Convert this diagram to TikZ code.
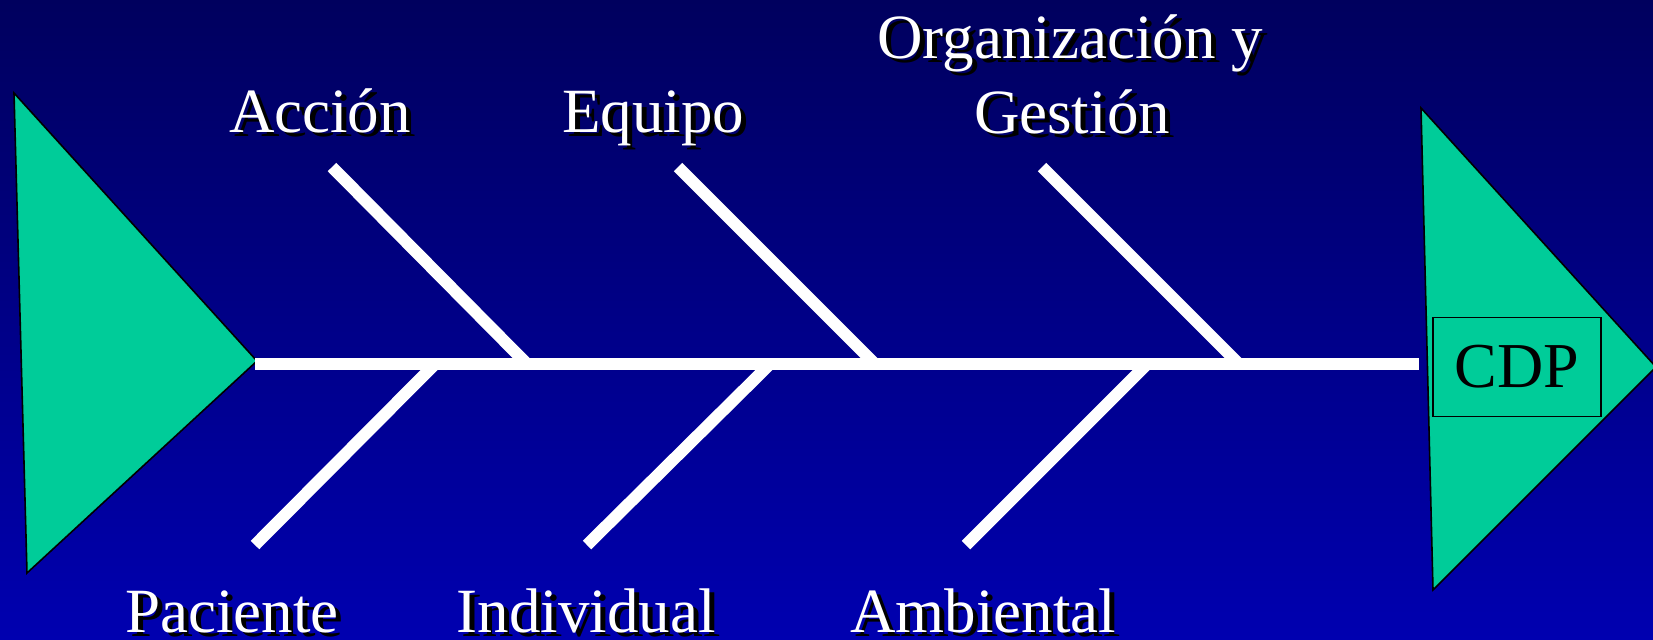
\documentclass[tikz,border=0pt]{standalone}
\usepackage{fontspec}
\setmainfont{Liberation Serif}
\definecolor{bgtop}{RGB}{0,0,94}
\definecolor{bgbot}{RGB}{0,0,176}
\definecolor{fishgreen}{RGB}{0,204,153}
\begin{document}
\begin{tikzpicture}[x=0.5pt,y=-0.5pt,
  fin/.style={fill=fishgreen,draw=black,line width=0.8pt,line join=miter},
  bone/.style={draw=white,line width=6pt},
  lbl/.style={text=white,font=\fontsize{31.5}{36}\selectfont,anchor=base,inner sep=0pt},
  lblsh/.style={text=black,font=\fontsize{31.5}{36}\selectfont,anchor=base,inner sep=0pt},
  cdpbox/.style={draw=black,line width=0.8pt,minimum width=84pt,minimum height=49.5pt,font=\fontsize{32}{38}\selectfont,text=black,inner sep=0pt}]
\useasboundingbox (0,0) rectangle (1653,639);
\shade[top color=bgtop,bottom color=bgbot] (0pt,0pt) rectangle (826.5pt,-319.5pt);
% fins
\coordinate (lt) at (14,93);
\coordinate (la) at (257,361);
\coordinate (lb) at (27,573);
\coordinate (rt) at (1421,108);
\coordinate (ra) at (1656,367);
\coordinate (rb) at (1433,590);
\draw[fin] (lt) -- (la) -- (lb) -- cycle;
\draw[fin] (rt) -- (ra) -- (rb) -- cycle;
% spine
\coordinate (s0) at (255,364);
\coordinate (s1) at (1419,364);
\draw[bone] (s0) -- (s1);
% upper bones
\coordinate (u1a) at (332,167); \coordinate (u1b) at (527,364);
\coordinate (u2a) at (678,167); \coordinate (u2b) at (875,364);
\coordinate (u3a) at (1042,167); \coordinate (u3b) at (1239,364);
\draw[bone] (u1a) -- (u1b);
\draw[bone] (u2a) -- (u2b);
\draw[bone] (u3a) -- (u3b);
% lower bones
\coordinate (d1a) at (435,364); \coordinate (d1b) at (255,545);
\coordinate (d2a) at (770,364); \coordinate (d2b) at (587,545);
\coordinate (d3a) at (1147,364); \coordinate (d3b) at (966,545);
\draw[bone] (d1a) -- (d1b);
\draw[bone] (d2a) -- (d2b);
\draw[bone] (d3a) -- (d3b);
% labels (shadow then text)
\node[lblsh] (accs) at (325,136) {Acción};
\node[lbl]   (acc)  at (320,132) {Acción};
\node[lblsh] (equs) at (658,136) {Equipo};
\node[lbl]   (equ)  at (653,132) {Equipo};
\node[lblsh] (org1s) at (1075,62) {Organización y};
\node[lbl]   (org1)  at (1070,58) {Organización y};
\node[lblsh] (org2s) at (1077,137) {Gestión};
\node[lbl]   (org2)  at (1072,133) {Gestión};
\node[lblsh] (pacs) at (237,636) {Paciente};
\node[lbl]   (pac)  at (232,632) {Paciente};
\node[lblsh] (inds) at (591,636) {Individual};
\node[lbl]   (ind)  at (586,632) {Individual};
\node[lblsh] (ambs) at (988,636) {Ambiental};
\node[lbl]   (amb)  at (983,632) {Ambiental};
% CDP
\node[cdpbox] (cdp) at (1517,367) {CDP};
\end{tikzpicture}
\end{document}
